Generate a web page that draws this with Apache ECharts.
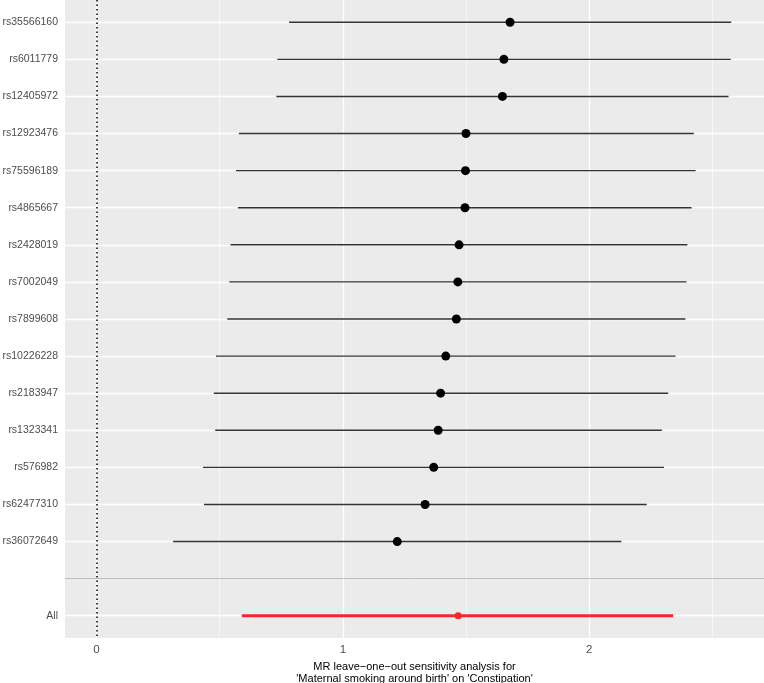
<!DOCTYPE html>
<html>
<head>
<meta charset="utf-8">
<script src="https://cdn.jsdelivr.net/npm/echarts@6/dist/echarts.min.js"></script>
<style>
  html, body { margin: 0; padding: 0; background: #fff; }
  #main { width: 764px; height: 683px; }
</style>
</head>
<body>
<div id="main"></div>
<script>
// SNP rows, top to bottom
const snps = ['rs35566160', 'rs6011779', 'rs12405972', 'rs12923476', 'rs75596189',
  'rs4865667', 'rs2428019', 'rs7002049', 'rs7899608', 'rs10226228',
  'rs2183947', 'rs1323341', 'rs576982', 'rs62477310', 'rs36072649'];
const estimates = [1.679, 1.654, 1.648, 1.500, 1.498, 1.496, 1.472, 1.467, 1.461, 1.418,
  1.397, 1.387, 1.369, 1.334, 1.221];
const lower = [0.782, 0.734, 0.730, 0.578, 0.566, 0.574, 0.544, 0.539, 0.531, 0.485,
  0.476, 0.482, 0.432, 0.436, 0.311];
const upper = [2.577, 2.575, 2.566, 2.425, 2.432, 2.416, 2.399, 2.395, 2.391, 2.351,
  2.321, 2.295, 2.304, 2.234, 2.131];
// overall estimate ("All")
const allLabel = 'All';
const allEstimate = 1.468;
const allLower = 0.590;
const allUpper = 2.341;

const xTicks = [0, 1, 2];
const xMinor = [0.5, 1.5, 2.5];

// row index for each label; one empty slot before "All"
const allRow = snps.length + 1;
const rowLabels = {};
snps.forEach((s, i) => { rowLabels[i] = s; });
rowLabels[allRow] = allLabel;
const rowIdx = Object.keys(rowLabels).map(Number);

const snpBars = snps.map((s, i) => [lower[i], upper[i], i]);
const snpPoints = snps.map((s, i) => [estimates[i], i]);

const font = '"Liberation Sans", Arial, Helvetica, sans-serif';

function barRenderer(color, width) {
  return function (params, api) {
    const a = api.coord([api.value(0), api.value(2)]);
    const b = api.coord([api.value(1), api.value(2)]);
    return {
      type: 'line',
      shape: { x1: a[0], y1: a[1], x2: b[0], y2: b[1] },
      style: { stroke: color, lineWidth: width }
    };
  };
}

const myChart = echarts.init(document.getElementById('main'));
myChart.setOption({
  animation: false,
  grid: {
    left: 65, right: 0, top: 0, bottom: 45,
    outerBoundsMode: 'none',
    containLabel: false,
    show: true, backgroundColor: '#EBEBEB', borderWidth: 0
  },
  xAxis: {
    type: 'value',
    min: -0.128,
    max: 2.71,
    axisLine: { show: false },
    splitLine: { show: false },
    axisTick: { show: true, customValues: xTicks, length: 3, lineStyle: { color: '#333', width: 1 } },
    axisLabel: { customValues: xTicks, color: '#4D4D4D', fontSize: 11.5, fontFamily: font, margin: 6 },
    name: 'MR leave\u2212one\u2212out sensitivity analysis for\n\'Maternal smoking around birth\' on \'Constipation\'',
    nameLocation: 'middle',
    nameGap: 21,
    nameTextStyle: { color: '#000', fontSize: 11, fontFamily: font, lineHeight: 12, verticalAlign: 'top' }
  },
  yAxis: {
    type: 'value',
    inverse: true,
    min: -0.6,
    max: allRow + 0.6,
    axisLine: { show: false },
    splitLine: { show: false },
    axisTick: { show: true, customValues: rowIdx, length: 3, lineStyle: { color: '#333', width: 1 } },
    axisLabel: {
      customValues: rowIdx,
      formatter: (v) => rowLabels[Math.round(v)] || '',
      color: '#4D4D4D', fontSize: 10.5, fontFamily: font, margin: 7
    }
  },
  series: [
    {
      // panel grid lines
      type: 'line',
      data: [],
      z: 1,
      silent: true,
      markLine: {
        z: 1,
        silent: true,
        symbol: 'none',
        animation: false,
        label: { show: false },
        data: [
          ...xMinor.map(v => ({ xAxis: v, lineStyle: { color: '#fff', width: 0.6, type: 'solid' } })),
          ...xTicks.map(v => ({ xAxis: v, lineStyle: { color: '#fff', width: 1.3, type: 'solid' } })),
          ...rowIdx.map(v => ({ yAxis: v, lineStyle: { color: '#fff', width: 1.3, type: 'solid' } }))
        ]
      }
    },
    {
      // reference lines
      type: 'line',
      data: [],
      z: 2,
      silent: true,
      markLine: {
        z: 2,
        silent: true,
        symbol: 'none',
        animation: false,
        label: { show: false },
        data: [
          { yAxis: snps.length, lineStyle: { color: '#BEBEBE', width: 1, type: 'solid' } },
          { xAxis: 0, lineStyle: { color: '#000', width: 1.5, type: [1.5, 3] } }
        ]
      }
    },
    {
      type: 'custom',
      z: 3,
      renderItem: barRenderer('#333', 1.4),
      encode: { x: [0, 1], y: 2 },
      data: snpBars
    },
    {
      type: 'scatter',
      z: 4,
      symbolSize: 9,
      itemStyle: { color: '#000', opacity: 1 },
      data: snpPoints
    },
    {
      type: 'custom',
      z: 3,
      renderItem: barRenderer('#F8262B', 3.2),
      encode: { x: [0, 1], y: 2 },
      data: [[allLower, allUpper, allRow]]
    },
    {
      type: 'scatter',
      z: 4,
      symbolSize: 7,
      itemStyle: { color: '#F8262B', opacity: 1 },
      data: [[allEstimate, allRow]]
    }
  ]
});
</script>
</body>
</html>
